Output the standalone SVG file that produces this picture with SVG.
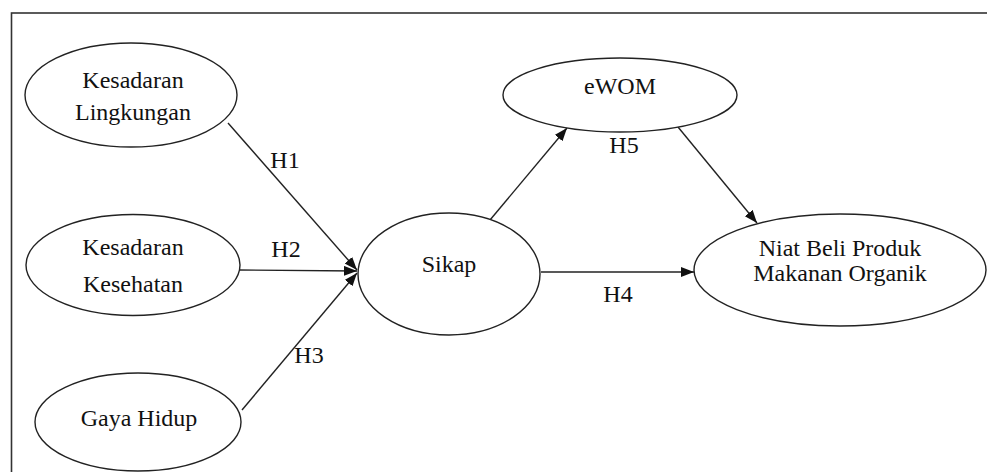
<svg xmlns="http://www.w3.org/2000/svg" width="987" height="472" viewBox="0 0 987 472" font-family="'Liberation Serif', 'Times New Roman', 'DejaVu Serif', serif">
<defs>
<style>
.node ellipse{fill:#fff;stroke:#222;stroke-width:1.4}
text{font-family:'Liberation Serif','Times New Roman','DejaVu Serif',serif;font-size:24px;fill:#111;text-anchor:middle}
.conn line{stroke:#222;stroke-width:1.4}
</style>
<marker id="ah" markerUnits="userSpaceOnUse" markerWidth="14" markerHeight="12" refX="13" refY="5" orient="auto">
<path d="M0,0 L13,5 L0,10 Z" fill="#111"/>
</marker>
</defs>
<rect width="987" height="472" fill="#fff"/>
<rect x="11.5" y="13" width="990" height="480" fill="none" stroke="#333" stroke-width="1.6"/>
<g class="conn">
<line x1="228" y1="123" x2="357" y2="270" marker-end="url(#ah)"/>
<line x1="239" y1="270" x2="357" y2="271" marker-end="url(#ah)"/>
<line x1="242" y1="410" x2="357" y2="273" marker-end="url(#ah)"/>
<line x1="490" y1="220" x2="567" y2="128" marker-end="url(#ah)"/>
<line x1="678" y1="127" x2="757" y2="223" marker-end="url(#ah)"/>
<line x1="541" y1="272" x2="694" y2="272" marker-end="url(#ah)"/>
<text x="285" y="168">H1</text>
<text x="286" y="257">H2</text>
<text x="309" y="363">H3</text>
<text x="624" y="153">H5</text>
<text x="618" y="302">H4</text>
</g>
<g id="kesadaran-lingkungan" class="node">
<ellipse cx="131" cy="95" rx="106" ry="52"/>
<text x="133" y="88">Kesadaran</text>
<text x="133" y="120">Lingkungan</text>
</g>
<g id="kesadaran-kesehatan" class="node">
<ellipse cx="133" cy="265" rx="107" ry="50.5"/>
<text x="133" y="255">Kesadaran</text>
<text x="133" y="292">Kesehatan</text>
</g>
<g id="gaya-hidup" class="node">
<ellipse cx="138" cy="422" rx="103" ry="49"/>
<text x="139" y="426">Gaya Hidup</text>
</g>
<g id="sikap" class="node">
<ellipse cx="449" cy="274" rx="91" ry="61"/>
<text x="449" y="272">Sikap</text>
</g>
<g id="ewom" class="node">
<ellipse cx="620" cy="95" rx="117" ry="37"/>
<text x="620" y="94">eWOM</text>
</g>
<g id="niat-beli" class="node">
<ellipse cx="840" cy="270" rx="146" ry="56"/>
<text x="840" y="256">Niat Beli Produk</text>
<text x="840" y="281">Makanan Organik</text>
</g>
</svg>
